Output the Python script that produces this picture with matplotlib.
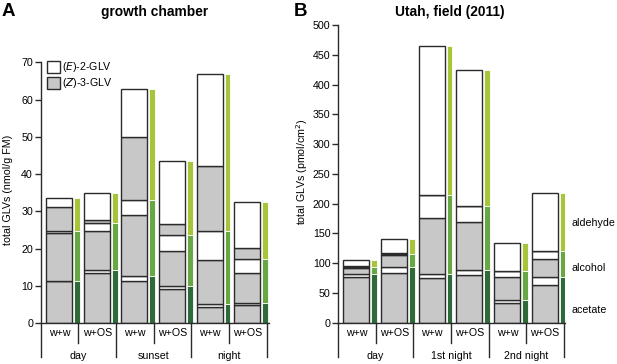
import matplotlib
matplotlib.use('Agg')
import matplotlib.pyplot as plt
from matplotlib.patches import Rectangle
from matplotlib.lines import Line2D
import numpy as np

plt.rcParams['font.family'] = ['Liberation Sans', 'DejaVu Sans']

# panel A: growth chamber (nmol/g FM)
cats = ['w+w', 'w+OS', 'w+w', 'w+OS', 'w+w', 'w+OS']
groups_a = ['day', 'sunset', 'night']
a_acZ = [11.3, 13.6, 11.4, 9.1, 4.3, 5.0]
a_acE = [0.1, 0.6, 1.3, 0.9, 0.8, 0.5]
a_alZ = [12.9, 10.6, 16.3, 9.4, 11.8, 8.1]
a_alE = [0.5, 2.2, 4.2, 4.3, 7.9, 3.6]
a_adZ = [6.5, 0.7, 16.7, 2.8, 17.5, 2.9]
a_adE = [2.4, 7.3, 13.0, 17.1, 24.6, 12.4]

# panel B: Utah field 2011 (pmol/cm2)
groups_b = ['day', '1st night', '2nd night']
b_acZ = [77, 84, 74.5, 80, 33, 64]
b_acE = [5, 9, 7, 8, 5.5, 13.5]
b_alZ = [10.5, 20.5, 95, 81, 38.8, 29]
b_alE = [0.8, 2.5, 38.5, 27.5, 9.2, 13.5]
b_adZ = [1.7, 1.5, 0, 0, 0, 0]
b_adE = [10, 23, 250.5, 228, 48, 98]

W, H = 617, 364
fig = plt.figure(figsize=(W / 100, H / 100), dpi=100)

def fx(px):
    return px / W

def fy(py):
    return 1 - py / H

GRAY = '#c8c8c8'
EDGE = '#2b2b2b'
G_DARK = '#2f6b38'
G_MID = '#67a845'
G_LIGHT = '#a6c53a'
FS = 7.7


def panel(left, top, right, bottom, ymax, ystep, segs, groups):
    ax = fig.add_axes([fx(left), fy(bottom), fx(right - left), (bottom - top) / H])
    x = np.arange(6)
    base = np.zeros(6)
    colors = [GRAY, 'white', GRAY, 'white', GRAY, 'white']
    for vals, c in zip(segs, colors):
        vals = np.array(vals, dtype=float)
        ax.bar(x + 0.145, vals, width=0.69, bottom=base, align='edge',
               color=c, edgecolor=EDGE, linewidth=1.0, zorder=2)
        base = base + vals
    gbase = np.zeros(6)
    for k, c in enumerate([G_DARK, G_MID, G_LIGHT]):
        vals = np.array(segs[2 * k], dtype=float) + np.array(segs[2 * k + 1], dtype=float)
        ax.bar(x + 0.885, vals, width=0.155, bottom=gbase, align='edge',
               color=c, edgecolor='white', linewidth=0.6, zorder=2)
        gbase = gbase + vals
    ax.set_xlim(0, (right - left) / 37.65)
    ax.set_ylim(0, ymax)
    ax.set_yticks(np.arange(0, ymax + 1, ystep))
    ax.tick_params(axis='y', labelsize=FS, length=4, width=1.0, pad=1.5, color=EDGE)
    ax.set_xticks([])
    for s in ['top', 'right']:
        ax.spines[s].set_visible(False)
    for s in ['left', 'bottom']:
        ax.spines[s].set_linewidth(1.0)
        ax.spines[s].set_color(EDGE)
    tr = ax.get_xaxis_transform()
    # separators below axis
    short = 20 / (bottom - top)
    long_ = 34 / (bottom - top)
    ax.add_line(Line2D([0, 0], [0, -long_], transform=tr, color=EDGE, lw=1.0, clip_on=False))
    for i in range(6):
        d = short if i % 2 == 0 else long_
        ax.add_line(Line2D([i + 1, i + 1], [0, -d], transform=tr, color=EDGE, lw=1.0, clip_on=False))
        ax.text(i + 0.5, -10 / (bottom - top), cats[i], transform=tr, ha='center', va='center', fontsize=FS)
    for j, g in enumerate(groups):
        ax.text(2 * j + 1, -33 / (bottom - top), g, transform=tr, ha='center', va='center', fontsize=FS)
    return ax


axA = panel(40.7, 62.3, 269.3, 323.3, 70, 10,
            [a_acZ, a_acE, a_alZ, a_alE, a_adZ, a_adE], groups_a)
axB = panel(338.0, 25.0, 564.5, 322.7, 500, 50,
            [b_acZ, b_acE, b_alZ, b_alE, b_adZ, b_adE], groups_b)

# panel letters and titles
fig.text(fx(2), fy(12), 'A', fontsize=13.5, fontweight='bold', va='center', ha='left')
fig.text(fx(155), fy(12), 'growth chamber', fontsize=9.9, fontweight='bold', va='center', ha='center')
fig.text(fx(294), fy(12), 'B', fontsize=13.5, fontweight='bold', va='center', ha='left')
fig.text(fx(450), fy(12), 'Utah, field (2011)', fontsize=9.9, fontweight='bold', va='center', ha='center')

# y labels
fig.text(fx(8), fy(190), 'total GLVs (nmol/g FM)', rotation=90, fontsize=FS, va='center', ha='center')
fig.text(fx(302), fy(172), 'total GLVs (pmol/cm$^2$)', rotation=90, fontsize=FS, va='center', ha='center')

# legend
for yy, c, lab in [(60.7, 'white', '($E$)-2-GLV'), (77.3, GRAY, '($Z$)-3-GLV')]:
    fig.add_artist(Rectangle((fx(46.7), fy(yy + 12)), fx(13.3), 12 / H,
                             transform=fig.transFigure, facecolor=c, edgecolor=EDGE, lw=1.0))
    fig.text(fx(62), fy(yy + 6), lab, fontsize=FS, va='center', ha='left')

# compound class annotations
for yy, lab in [(222.7, 'aldehyde'), (268, 'alcohol'), (310, 'acetate')]:
    fig.text(fx(571), fy(yy), lab, fontsize=FS, va='center', ha='left')

fig.savefig('out.png', dpi=100)
